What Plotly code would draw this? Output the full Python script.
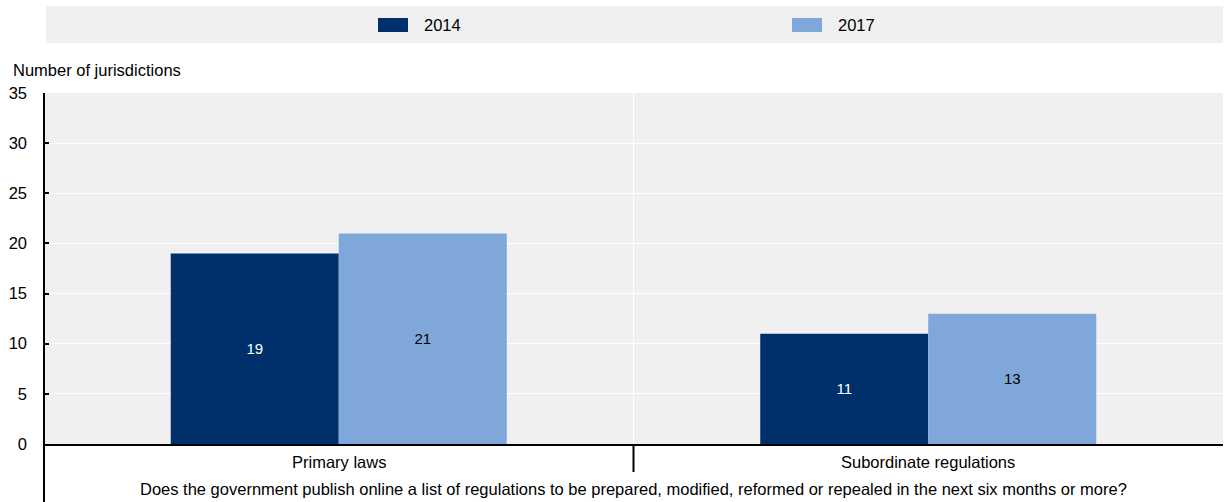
import plotly.graph_objects as go

categories = ["Primary laws", "Subordinate regulations"]
series_names = ["2014", "2017"]
values_2014 = [19, 11]
values_2017 = [21, 13]
y_ticks = [0, 5, 10, 15, 20, 25, 30, 35]
question = ("Does the government publish online a list of regulations to be prepared, "
            "modified, reformed or repealed in the next six months or more?")

colors = ["#00306b", "#7fa7d9"]
text_colors = ["#ffffff", "#000000"]
FONT = "Liberation Sans, Arial, sans-serif"
FS = 16.5

W, H = 1224, 502
L, R, T, B = 44, 1, 93, 58
PW, PH = W - L - R, H - T - B


def px_x(x):
    return (x - L) / PW


def px_y(y):
    return (H - B - y) / PH


fig = go.Figure()
for name, vals, col, tcol in zip(series_names, [values_2014, values_2017], colors, text_colors):
    fig.add_trace(go.Bar(
        x=categories, y=vals, name=name, marker=dict(color=col, line=dict(width=0)),
        text=[str(v) for v in vals], textposition="inside", insidetextanchor="middle",
        textfont=dict(family=FONT, size=15, color=tcol), showlegend=False,
        hoverinfo="skip",
    ))

fig.update_layout(
    width=W, height=H,
    margin=dict(l=L, r=R, t=T, b=B),
    paper_bgcolor="white", plot_bgcolor="#f0f0f0",
    barmode="group", bargap=0.43, bargroupgap=0,
    font=dict(family=FONT, size=FS, color="#000000"),
    xaxis=dict(type="category", range=[-0.5, 1.5], showticklabels=False,
               showgrid=False, showline=True, linecolor="#000000", linewidth=2,
               ticks="", zeroline=False),
    yaxis=dict(range=[0, 35], tickvals=y_ticks, showgrid=True, gridcolor="#ffffff",
               gridwidth=1, showline=False, ticks="inside", ticklen=5,
               tickcolor="#000000", tickwidth=2, zeroline=False,
               tickfont=dict(size=FS, family=FONT), ticklabelstandoff=16),
)

# left axis line extending below the plot to the bottom edge
fig.add_shape(type="line", xref="paper", yref="paper", x0=0, x1=0, y0=1, y1=px_y(H),
              line=dict(color="#000000", width=2), layer="above")
# white separator between categories inside plot, black tick below the axis
fig.add_shape(type="line", xref="x", yref="y", x0=0.5, x1=0.5, y0=0, y1=35,
              line=dict(color="#ffffff", width=1), layer="below")
fig.add_shape(type="line", xref="x", yref="paper", x0=0.5, x1=0.5, y0=0, y1=px_y(472),
              line=dict(color="#000000", width=2))

# category labels and the question beneath them
for cat in categories:
    fig.add_annotation(x=cat, y=px_y(462), xref="x", yref="paper", text=cat,
                       showarrow=False, font=dict(size=FS, family=FONT), yanchor="middle")
fig.add_annotation(x=0.5, y=px_y(489), xref="paper", yref="paper", text=question,
                   showarrow=False, font=dict(size=FS, family=FONT), yanchor="middle")

# axis title
fig.add_annotation(x=px_x(11), y=px_y(70), xref="paper", yref="paper",
                   text="Number of jurisdictions", showarrow=False,
                   font=dict(size=FS, family=FONT), xanchor="left", yanchor="middle")

# legend band
fig.add_shape(type="rect", xref="paper", yref="paper",
              x0=px_x(46), x1=1.0, y0=px_y(43), y1=px_y(6),
              fillcolor="#f0f0f0", line=dict(width=0), layer="below")
legend_x = [378, 792]
for name, col, lx in zip(series_names, colors, legend_x):
    fig.add_shape(type="rect", xref="paper", yref="paper",
                  x0=px_x(lx), x1=px_x(lx + 30), y0=px_y(32), y1=px_y(18),
                  fillcolor=col, line=dict(width=0))
    fig.add_annotation(x=px_x(lx + 44), y=px_y(25), xref="paper", yref="paper",
                       text=name, showarrow=False, xanchor="left", yanchor="middle",
                       font=dict(size=FS, family=FONT))

fig.write_html("out.html")
